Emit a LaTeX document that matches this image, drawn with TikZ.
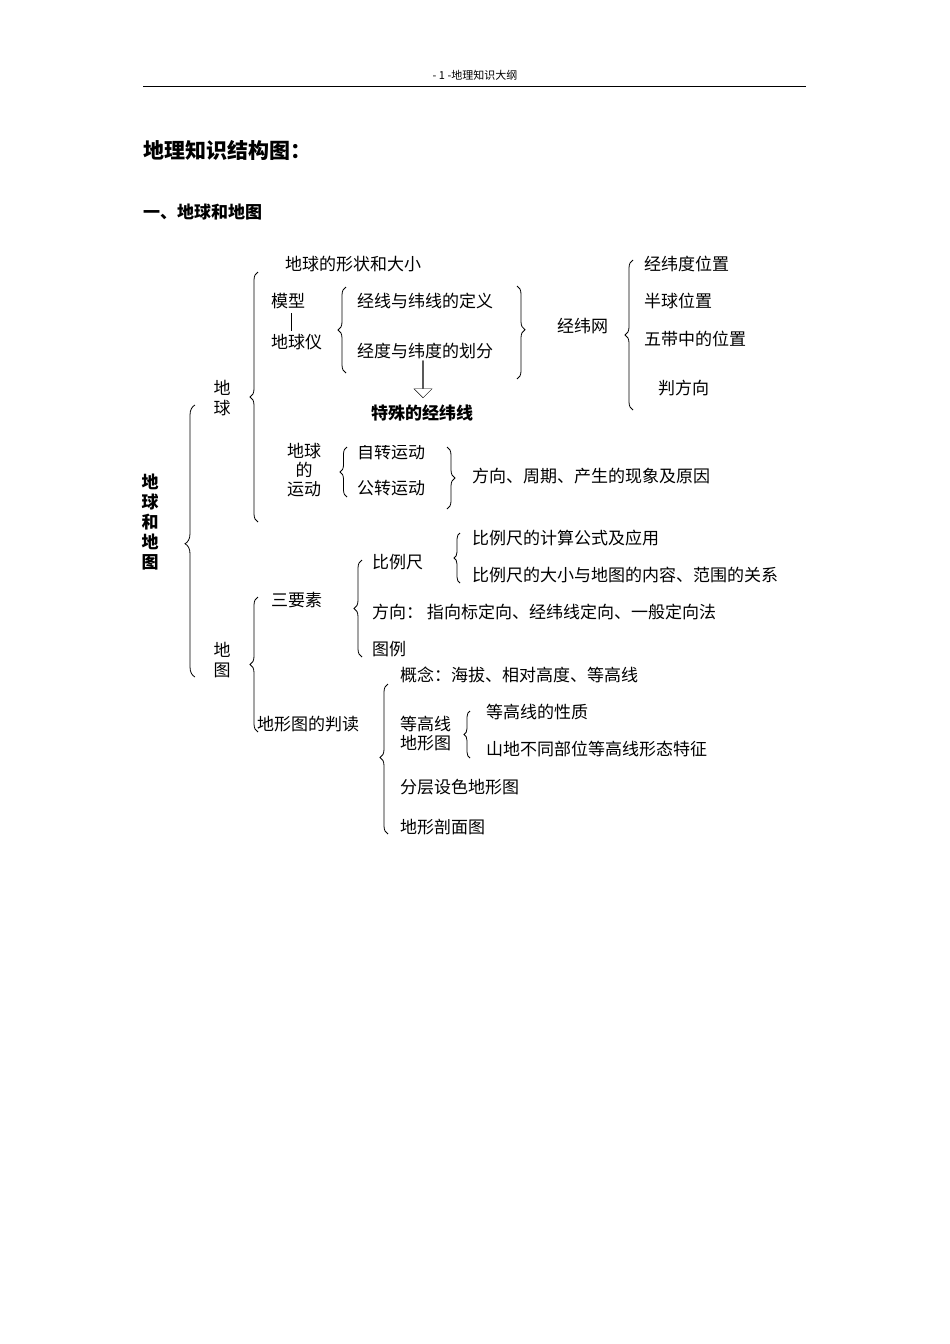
\documentclass[tikz,border=0pt]{standalone}
\usepackage{fontspec}
\setmainfont{Noto Sans CJK SC}
\usetikzlibrary{decorations.pathreplacing,shapes.arrows}
\begin{document}
\begin{tikzpicture}[x=1pt,y=-1pt,
  t/.style={anchor=west,inner sep=0pt,font=\fontsize{17}{20}\selectfont},
  b/.style={t,font=\fontsize{17}{20}\selectfont\bfseries},
  br/.style={decorate,decoration={brace,amplitude=#1},line width=0.8pt},
  br/.default=8pt]
\useasboundingbox (0,0) rectangle (950,1344);
\node[anchor=center,inner sep=0pt,font=\fontsize{11}{13}\selectfont] (hdr) at (475,75) {- 1 -地理知识大纲};
\draw[line width=0.8pt] (143,86) coordinate (l1) -- (806,86) coordinate (l2);
\node[b,font=\fontsize{21}{24}\selectfont\bfseries] (title) at (143,150) {地理知识结构图：};
\node[b] (sec) at (143,212) {一、地球和地图};
\node[anchor=center,inner sep=0pt,align=center,font=\fontsize{17}{20}\selectfont\bfseries] (root) at (150,522) {地\\球\\和\\地\\图};
% main brace
\draw[br=10pt,decoration={aspect=0.49}] (195,677) -- (195,405);
\node[anchor=center,inner sep=0pt,align=center,font=\fontsize{17}{20}\selectfont] (diqiu) at (222,398) {地\\球};
\draw[br,decoration={aspect=0.5}] (258,522) -- (258,272);
\node[t] (shape) at (285,264) {地球的形状和大小};
\node[t] (mx) at (271,301) {模型};
\draw (291,313) -- (291,331);
\node[t] (dqy) at (271,342) {地球仪};
\draw[br,decoration={aspect=0.5}] (346,373) -- (346,287);
\node[t] (def) at (357,301) {经线与纬线的定义};
\node[t] (div) at (357,351) {经度与纬度的划分};
\draw[br,decoration={aspect=0.47}] (517,286) -- (517,379);
\node[t] (jww) at (557,326) {经纬网};
\draw[br,decoration={aspect=0.5}] (633,410) -- (633,260);
\node[t] (p1) at (644,264) {经纬度位置};
\node[t] (p2) at (644,301) {半球位置};
\node[t] (p3) at (644,339) {五带中的位置};
\node[t] (p4) at (658,388) {判方向};
\node[single arrow,draw,shape border rotate=270,minimum height=37pt,minimum width=18pt,single arrow head extend=3pt,inner sep=0pt,fill=white] (arr) at (423,379) {};
\node[b] (tsjw) at (371,413) {特殊的经纬线};
\node[anchor=center,inner sep=0pt,align=center,font=\fontsize{17}{19}\selectfont] (yd) at (304,470) {地球\\的\\运动};
\draw[br=7pt,decoration={aspect=0.5}] (347,497) -- (347,447);
\begin{scope}
\clip (340,445) rectangle (450,520);
\node[t] (zz) at (357,452) {自转运动};
\end{scope}
\node[t] (gz) at (357,488) {公转运动};
\draw[br,decoration={aspect=0.5}] (447,447) -- (447,509);
\node[t] (fx) at (472,476) {方向、周期、产生的现象及原因};
\node[anchor=center,inner sep=0pt,align=center,font=\fontsize{17}{20}\selectfont] (dt) at (222,660) {地\\图};
\draw[br,decoration={aspect=0.5}] (258,732) -- (258,597);
\node[t] (syy) at (271,600) {三要素};
\draw[br,decoration={aspect=0.5}] (362,657) -- (362,560);
\node[t] (blc) at (372,562) {比例尺};
\draw[br=6pt,decoration={aspect=0.5}] (460,583) -- (460,533);
\node[t] (b1) at (472,538) {比例尺的计算公式及应用};
\begin{scope}
\clip (460,560) rectangle (806,592);
\node[t] (b2) at (472,575) {比例尺的大小与地图的内容、范围的关系};
\end{scope}
\node[t] (fxx) at (372,612) {方向： 指向标定向、经纬线定向、一般定向法};
\node[t] (tl) at (372,649) {图例};
\node[t] (dxt) at (257,724) {地形图的判读};
\draw[br,decoration={aspect=0.51}] (388,834) -- (388,684);
\node[t] (gn) at (400,675) {概念：海拔、相对高度、等高线};
\node[anchor=west,inner sep=0pt,align=left,font=\fontsize{17}{19}\selectfont] (dgx) at (400,734) {等高线\\地形图};
\draw[br=6pt,decoration={aspect=0.5}] (470,758) -- (470,711);
\node[t] (x1) at (486,712) {等高线的性质};
\node[t] (x2) at (486,749) {山地不同部位等高线形态特征};
\node[t] (fc) at (400,787) {分层设色地形图};
\node[t] (pm) at (400,827) {地形剖面图};
\end{tikzpicture}
\end{document}
